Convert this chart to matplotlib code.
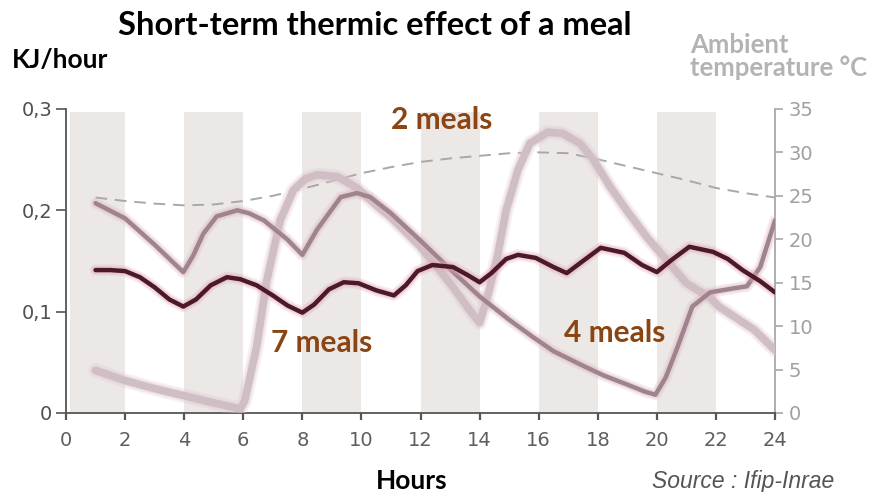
import matplotlib
matplotlib.use("Agg")
import matplotlib.pyplot as plt

# ---- data ----
hours_temp = [1, 2, 3, 4, 5, 6, 7, 8, 9, 10, 11, 12, 13, 14, 15, 16, 17, 18, 19, 20, 21, 22, 23, 24]
temperature = [24.8, 24.4, 24.1, 23.9, 24.0, 24.4, 25.0, 25.8, 26.7, 27.6, 28.3, 28.9,
               29.3, 29.6, 29.9, 30.0, 29.9, 29.2, 28.4, 27.6, 26.8, 25.9, 25.3, 24.8]

hours_7 = [1.0, 1.5, 2.0, 2.5, 3.0, 3.5, 3.97, 4.4, 4.9, 5.45, 5.9, 6.45, 7.0, 7.5, 8.0,
           8.4, 8.9, 9.4, 9.9, 10.5, 11.1, 11.5, 11.9, 12.4, 13.1, 13.6, 14.0, 14.4, 14.9,
           15.3, 15.9, 16.5, 16.95, 17.5, 18.1, 18.9, 19.5, 20.0, 20.5, 21.1, 21.9, 22.4,
           22.9, 23.5, 24.0]
meals_7 = [0.141, 0.141, 0.140, 0.134, 0.124, 0.112, 0.105, 0.112, 0.126, 0.134, 0.132,
           0.126, 0.116, 0.106, 0.099, 0.107, 0.122, 0.129, 0.128, 0.121, 0.116, 0.126,
           0.140, 0.146, 0.144, 0.136, 0.129, 0.138, 0.152, 0.156, 0.153, 0.144, 0.138,
           0.150, 0.163, 0.158, 0.146, 0.139, 0.151, 0.164, 0.159, 0.152, 0.141, 0.130,
           0.119]

hours_4 = [1.0, 2.0, 3.0, 3.97, 4.3, 4.65, 5.1, 5.8, 6.2, 6.7, 7.5, 8.0, 8.5, 9.3, 9.85,
           10.3, 11.0, 12.0, 13.0, 14.0, 15.0, 15.8, 16.5, 17.4, 18.2, 19.0, 19.6, 19.95,
           20.3, 20.7, 21.2, 21.8, 22.6, 23.05, 23.5, 24.0]
meals_4 = [0.207, 0.192, 0.166, 0.139, 0.155, 0.177, 0.194, 0.200, 0.197, 0.190, 0.171,
           0.156, 0.181, 0.213, 0.217, 0.213, 0.197, 0.170, 0.142, 0.115, 0.092, 0.075,
           0.061, 0.048, 0.037, 0.028, 0.021, 0.018, 0.035, 0.065, 0.105, 0.119, 0.123,
           0.125, 0.144, 0.190]

hours_2 = [1.0, 2.0, 3.0, 4.0, 5.0, 5.9, 6.05, 6.45, 6.8, 7.25, 7.7, 8.1, 8.5, 9.2, 9.85,
           10.5, 11.0, 12.0, 13.0, 13.7, 14.0, 14.3, 14.6, 14.9, 15.3, 15.7, 16.3, 16.8,
           17.4, 17.85, 18.4, 19.0, 19.7, 20.3, 21.0, 21.8, 22.1, 23.3, 24.0]
meals_2 = [0.042, 0.032, 0.024, 0.017, 0.010, 0.004, 0.012, 0.065, 0.131, 0.190, 0.220,
           0.231, 0.235, 0.233, 0.222, 0.205, 0.193, 0.164, 0.128, 0.100, 0.089, 0.118,
           0.154, 0.200, 0.240, 0.266, 0.277, 0.276, 0.266, 0.250, 0.224, 0.199, 0.172,
           0.152, 0.128, 0.114, 0.105, 0.082, 0.062]

band_starts = [0.15, 4, 8, 12, 16, 20]
band_ends = [2, 6, 10, 14, 18, 22]

x_ticks = [0, 2, 4, 6, 8, 10, 12, 14, 16, 18, 20, 22, 24]
y_ticks = [0, 0.1, 0.2, 0.3]
y_tick_labels = ["0", "0,1", "0,2", "0,3"]
t_ticks = [0, 5, 10, 15, 20, 25, 30, 35]

title = "Short-term thermic effect of a meal"
series_labels = ["2 meals", "7 meals", "4 meals"]

# ---- figure ----
fig = plt.figure(figsize=(8.8, 4.92), dpi=100)
ax = fig.add_axes([0.075, 0.1606, 0.8057, 0.618])
ax2 = ax.twinx()
ax.set_zorder(ax2.get_zorder() + 1)
ax.patch.set_visible(False)

tick_font = ["Liberation Sans Narrow", "DejaVu Sans"]
text_font = ["Lato", "DejaVu Sans"]

for s, e in zip(band_starts, band_ends):
    ax2.fill_between([s, e], 0, 34.6, color="#ebe8e5", lw=0, zorder=0)

ax2.plot(hours_temp, temperature, color="#a8a8a8", lw=1.4, ls=(0, (6, 4)), zorder=2)

def glow_line(x, y, color, glow, lw, z):
    ax.plot(x, y, color=glow, lw=lw + 5, alpha=0.25, solid_capstyle="round",
            solid_joinstyle="round", zorder=z)
    ax.plot(x, y, color=glow, lw=lw + 2.5, alpha=0.35, solid_capstyle="round",
            solid_joinstyle="round", zorder=z)
    ax.plot(x, y, color=color, lw=lw, solid_capstyle="round", solid_joinstyle="round",
            zorder=z + 0.1)

glow_line(hours_2, meals_2, "#cfbfc5", "#e3c9d2", 5.5, 3)
glow_line(hours_4, meals_4, "#9e848d", "#e2b9c6", 3.2, 4)
glow_line(hours_7, meals_7, "#4a1a28", "#e7a9bb", 3.2, 5)

ax.set_xlim(0, 24)
ax.set_ylim(0, 0.3)
ax2.set_ylim(0, 35)

ax.set_xticks(x_ticks)
ax.set_xticklabels([str(t) for t in x_ticks], family=tick_font, fontsize=14, color="#5e5e5e")
ax.set_yticks(y_ticks)
ax.set_yticklabels(y_tick_labels, family=tick_font, fontsize=14, color="#505050")
ax2.set_yticks(t_ticks)
ax2.set_yticklabels([str(t) for t in t_ticks], family=tick_font, fontsize=14, color="#a0a0a0")

for a in (ax, ax2):
    a.spines["top"].set_visible(False)
ax.spines["right"].set_visible(False)
ax2.spines["left"].set_visible(False)
ax2.spines["bottom"].set_visible(False)
ax.spines["left"].set_color("#555555")
ax.spines["bottom"].set_color("#555555")
ax.spines["left"].set_linewidth(1.3)
ax.spines["bottom"].set_linewidth(1.3)
ax2.spines["right"].set_color("#a8a8a8")
ax2.spines["right"].set_linewidth(1.3)

ax.tick_params(axis="x", direction="out", length=5, width=1.6, color="#555555", pad=8)
ax.tick_params(axis="y", direction="out", length=7, width=1.2, color="#555555", pad=3)
ax2.tick_params(axis="y", direction="out", length=6, width=1.2, color="#a8a8a8", pad=4)

# ---- texts ----
fig.text(0.426, 0.949, title, ha="center", va="center", fontsize=23.5, fontweight="bold",
         family=text_font, color="#000000")
fig.text(0.013, 0.878, "KJ/hour", ha="left", va="center", fontsize=19, fontweight="bold",
         family=text_font, color="#000000")
fig.text(0.784, 0.886, "Ambient\ntemperature °C", ha="left", va="center", fontsize=18.5,
         fontweight="bold", family=text_font, color="#b3b3b3", linespacing=0.92)
fig.text(0.468, 0.022, "Hours", ha="center", va="center", fontsize=19, fontweight="bold",
         family=text_font, color="#000000")
fig.text(0.741, 0.009, "Source : Ifip-Inrae", ha="left", va="baseline", fontsize=16.5,
         style="italic", family=["Liberation Sans", "DejaVu Sans"], color="#555555")

label_color = "#8b4513"
label_pos = [(442, 120), (322, 343), (615, 333)]
for lab, (px, py) in zip(series_labels, label_pos):
    fig.text(px / 880, 1 - py / 492, lab, ha="center", va="center", fontsize=21.5,
             fontweight="bold", family=text_font, color=label_color)

fig.savefig("out.png", dpi=100)
